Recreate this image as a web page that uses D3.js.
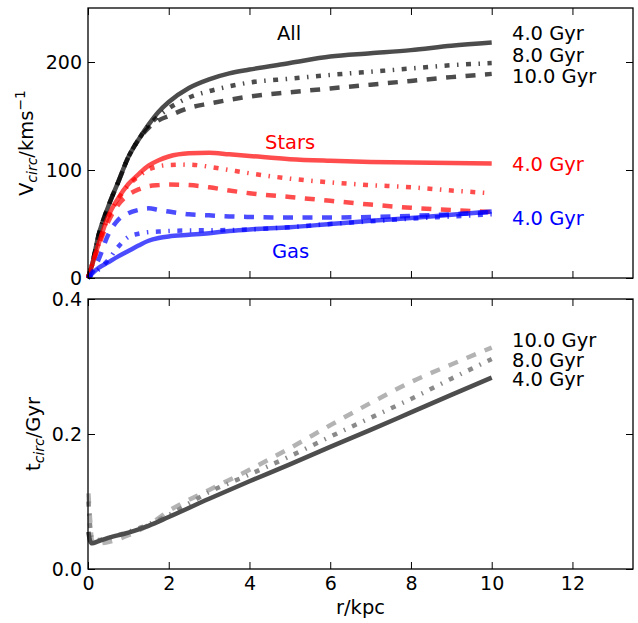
<!DOCTYPE html>
<html>
<head>
<meta charset="utf-8">
<script src="https://cdn.jsdelivr.net/npm/d3@7"></script>
<style>
  body { margin: 0; background: #fff; }
  text { font-family: "DejaVu Sans", sans-serif; }
</style>
</head>
<body>
<div id="chart"></div>
<script>
// radius grid (kpc) for the upper panel
const rTop = [0, 0.1, 0.25, 0.5, 0.75, 1.0, 1.25, 1.5, 1.75, 2.0, 2.5, 3.0, 3.5, 4.0, 5.0, 6.0, 7.0, 8.0, 9.0, 10.0];

// V_circ, all matter
const vAll4  = [0, 12, 38, 66, 89, 112, 128, 142, 154, 163, 176, 184, 189.5, 193, 199, 205, 208, 211, 215, 218];
const vAll8  = [0, 12, 38, 66, 89, 112, 128, 141, 150, 157, 167, 173, 177.5, 181, 184.5, 188, 191, 194, 197, 199];
const vAll10 = [0, 12, 38, 66, 89, 112, 128, 139, 146, 150, 157.5, 161.5, 165, 168, 172, 175.5, 179, 182.5, 186, 189];
// stars
const vStar4  = [0, 12, 30, 57, 74, 87, 96, 104, 109, 112.5, 115.5, 116, 114.5, 113, 110, 108.5, 107.5, 107, 106.5, 106];
const vStar8  = [0, 12, 30, 56, 73, 86, 94, 100.5, 103.5, 104.6, 105, 103, 100, 97, 92, 88.5, 86, 84, 81, 78.5];
const vStar10 = [0, 11, 28, 52, 68, 77, 82, 85, 86, 86.5, 86, 84, 81, 78.5, 75, 71.5, 68, 65, 63, 61];
// gas
const vGas4  = [0, 4, 9, 14.5, 20, 25, 30, 34.5, 37, 38.5, 40, 41.5, 43.5, 45, 47, 50, 53, 55.5, 58.5, 61.5];
const vGas8  = [0, 3, 7.4, 16.7, 29, 38, 41, 42.5, 43, 43.5, 44, 44.2, 44.4, 45, 47, 50, 52.5, 55, 57, 59];
const vGas10 = [0, 5, 16, 40, 54, 60, 63, 64.5, 63, 61.5, 59, 58, 57, 56.5, 56, 56, 56.5, 57.5, 59, 61];

// radius grid for the lower panel
const rBot = [0.01, 0.05, 0.1, 0.25, 0.5, 1.0, 1.5, 2.0, 3.0, 4.0, 5.0, 6.0, 7.0, 8.0, 9.0, 10.0];
const tCirc4  = [0.055, 0.042, 0.038, 0.041, 0.046, 0.054, 0.064, 0.077, 0.104, 0.13, 0.155, 0.181, 0.206, 0.232, 0.258, 0.2835];
const tCirc8  = [0.1, 0.065, 0.045, 0.043, 0.046, 0.055, 0.066, 0.08, 0.114, 0.14, 0.167, 0.196, 0.224, 0.252, 0.282, 0.311];
const tCirc10 = [0.112, 0.075, 0.042, 0.038, 0.04, 0.05, 0.065, 0.086, 0.117, 0.147, 0.179, 0.213, 0.246, 0.277, 0.303, 0.328];

const ages = ["4.0 Gyr", "8.0 Gyr", "10.0 Gyr"];
const xTicks = [0, 2, 4, 6, 8, 10, 12];
const vTicks = [0, 100, 200];
const tTicks = [0, 0.2, 0.4];

const W = 638, H = 623;
const FS = 19.5;
const svg = d3.select("#chart").append("svg")
    .attr("width", W).attr("height", H);

const x = d3.scaleLinear().domain([0, 13.5]).range([88, 633]);
const yTop = d3.scaleLinear().domain([0, 250]).range([278, 8]);
const yBot = d3.scaleLinear().domain([0, 0.4]).range([569, 299]);

const SOLID = null, DASHDOT = "5,7.5,1.5,7.5", DASHED = "10,9.5";

function drawLine(rs, vs, y, color, dash, opacity) {
    const line = d3.line().x(d => x(d[0])).y(d => y(d[1])).curve(d3.curveMonotoneX);
    svg.append("path")
        .datum(rs.map((r, i) => [r, vs[i]]))
        .attr("d", line)
        .attr("fill", "none")
        .attr("stroke", color)
        .attr("stroke-opacity", opacity)
        .attr("stroke-width", 4.5)
        .attr("stroke-dasharray", dash);
}

function frame(y, ticks, fmt, showX) {
    const [y0, y1] = y.range();
    const g = svg.append("g");
    g.append("g").attr("transform", "translate(0," + y0 + ")")
        .call(d3.axisBottom(x).tickValues(xTicks).tickSizeInner(-7).tickSizeOuter(0).tickPadding(8)
            .tickFormat(showX ? d3.format("d") : ""));
    g.append("g").attr("transform", "translate(0," + y1 + ")")
        .call(d3.axisTop(x).tickValues(xTicks).tickSizeInner(-7).tickSizeOuter(0).tickFormat(""));
    g.append("g").attr("transform", "translate(" + x.range()[0] + ",0)")
        .call(d3.axisLeft(y).tickValues(ticks).tickSizeInner(-7).tickSizeOuter(0).tickPadding(6).tickFormat(fmt));
    g.append("g").attr("transform", "translate(" + x.range()[1] + ",0)")
        .call(d3.axisRight(y).tickValues(ticks).tickSizeInner(-7).tickSizeOuter(0).tickFormat(""));
    g.selectAll(".domain").remove();
    g.selectAll(".tick line").attr("stroke", "#000").attr("stroke-width", 1);
    g.selectAll(".tick text").attr("font-size", 19).attr("font-family", "DejaVu Sans").attr("fill", "#000");
    svg.append("rect")
        .attr("x", x.range()[0]).attr("y", y1)
        .attr("width", x.range()[1] - x.range()[0]).attr("height", y0 - y1)
        .attr("fill", "none").attr("stroke", "#000").attr("stroke-width", 1.3);
}

// upper panel curves
drawLine(rTop, vAll4, yTop, "#000", SOLID, 0.7);
drawLine(rTop, vAll8, yTop, "#000", DASHDOT, 0.7);
drawLine(rTop, vAll10, yTop, "#000", DASHED, 0.7);
drawLine(rTop, vStar4, yTop, "#ff0000", SOLID, 0.7);
drawLine(rTop, vStar8, yTop, "#ff0000", DASHDOT, 0.7);
drawLine(rTop, vStar10, yTop, "#ff0000", DASHED, 0.7);
drawLine(rTop, vGas4, yTop, "#0000ff", SOLID, 0.7);
drawLine(rTop, vGas8, yTop, "#0000ff", DASHDOT, 0.7);
drawLine(rTop, vGas10, yTop, "#0000ff", DASHED, 0.7);

// lower panel curves
drawLine(rBot, tCirc10, yBot, "#b3b3b3", DASHED, 1);
drawLine(rBot, tCirc8, yBot, "#8a8a8a", DASHDOT, 1);
drawLine(rBot, tCirc4, yBot, "#4d4d4d", SOLID, 1);

frame(yTop, vTicks, d3.format("d"), false);
frame(yBot, tTicks, d3.format(".1f"), true);

// text labels
function label(tx, ty, str, color) {
    svg.append("text").attr("x", tx).attr("y", ty)
        .attr("font-size", FS).attr("fill", color).text(str);
}
label(277, 40, "All", "#000");
label(265, 149, "Stars", "#ff0000");
label(272, 258, "Gas", "#0000ff");
label(512, 40, ages[0], "#000");
label(512, 62, ages[1], "#000");
label(512, 83, ages[2], "#000");
label(512, 171, ages[0], "#ff0000");
label(512, 225, ages[0], "#0000ff");
label(512, 347, ages[2], "#000");
label(512, 367, ages[1], "#000");
label(512, 386, ages[0], "#000");

// axis titles
const yl1 = svg.append("text").attr("font-size", FS).attr("text-anchor", "middle")
    .attr("transform", "translate(33," + (yTop.range()[0] + yTop.range()[1]) / 2 + ") rotate(-90)");
yl1.append("tspan").text("V");
yl1.append("tspan").attr("font-size", 14).attr("font-style", "italic").attr("dy", 4).text("circ");
yl1.append("tspan").attr("dy", -4).text("/kms");
yl1.append("tspan").attr("font-size", 14).attr("dy", -8).text("\u22121");

const yl2 = svg.append("text").attr("font-size", FS).attr("text-anchor", "middle")
    .attr("transform", "translate(40," + (yBot.range()[0] + yBot.range()[1]) / 2 + ") rotate(-90)");
yl2.append("tspan").text("t");
yl2.append("tspan").attr("font-size", 14).attr("font-style", "italic").attr("dy", 4).text("circ");
yl2.append("tspan").attr("dy", -4).text("/Gyr");

svg.append("text").attr("x", (x.range()[0] + x.range()[1]) / 2).attr("y", 614)
    .attr("font-size", FS).attr("text-anchor", "middle").text("r/kpc");
</script>
</body>
</html>
